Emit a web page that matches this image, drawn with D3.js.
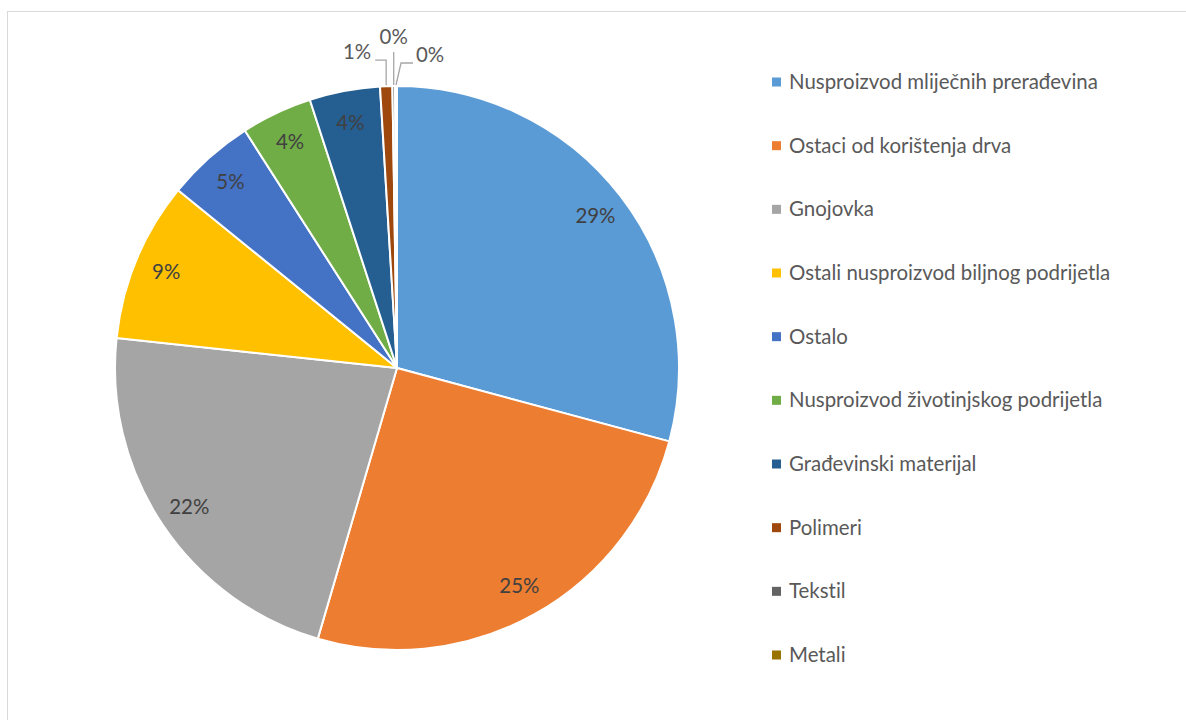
<!DOCTYPE html>
<html><head><meta charset="utf-8">
<script src="https://cdn.jsdelivr.net/npm/d3@7"></script>
<style>html,body{margin:0;padding:0;background:#fff;overflow:hidden} text{font-variant-ligatures:none;font-feature-settings:"liga" 0,"clig" 0}</style>
</head><body>
<svg id="c" width="1186" height="720"></svg>
<script>
const categories = ["Nusproizvod mliječnih prerađevina","Ostaci od korištenja drva","Gnojovka","Ostali nusproizvod biljnog podrijetla","Ostalo","Nusproizvod životinjskog podrijetla","Građevinski materijal","Polimeri","Tekstil","Metali"];
const values = [29.19, 25.34, 22.16, 9.17, 5.07, 4.07, 4.04, 0.70, 0.15, 0.11];
const colors = ["#5B9BD5","#ED7D31","#A5A5A5","#FFC000","#4472C4","#70AD47","#255E91","#9E480E","#636363","#997300"];

const svg = d3.select("#c");
const FONT = "Lato, 'Open Sans', sans-serif";
const TXT = "#595959";
// border
svg.append("rect").attr("x",7.5).attr("y",11.5).attr("width",1190).attr("height",720)
  .attr("fill","none").attr("stroke","#d9d9d9").attr("stroke-width",1);

const cx = 397, cy = 368, r = 282;
const total = d3.sum(values);
const pie = d3.pie().sort(null).value(d=>d)(values);
const arc = d3.arc().innerRadius(0).outerRadius(r);
const g = svg.append("g").attr("transform",`translate(${cx},${cy})`);
g.selectAll("path").data(pie).join("path")
  .attr("d",arc).attr("fill",(d,i)=>colors[i])
  .attr("stroke","#fff").attr("stroke-width",2).attr("stroke-linejoin","round");

// fit font size
const probe = svg.append("text").attr("font-family",FONT).attr("font-size",18).text(categories[0]);
const w18 = probe.node().getComputedTextLength();
probe.remove();
const fs = 18*309/w18;

const pct = v => Math.round(v/total*100) + "%";
const labelR = 250;
// inside labels
g.selectAll("text.in").data(pie.filter(d=>d.value/total>=0.02)).join("text")
  .attr("class","in")
  .attr("x",d=>labelR*Math.sin((d.startAngle+d.endAngle)/2))
  .attr("y",d=>-labelR*Math.cos((d.startAngle+d.endAngle)/2))
  .attr("dy","0.35em").attr("text-anchor","middle")
  .attr("font-family",FONT).attr("font-size",fs).attr("fill","#404040")
  .text(d=>pct(d.value));

// outside labels for tiny slices (layout: leader elbow offsets & text anchors)
const outLayout = [
  {elbow:[0,-25], end:[-11,0], anchor:"end", tx:-4, ty:-1},
  {elbow:[0,-33], end:[0,0], anchor:"middle", tx:0, ty:-8},
  {elbow:[5,-22], end:[12,0], anchor:"start", tx:3, ty:-1}
];
const small = pie.filter(d=>d.value/total<0.02);
small.forEach((d,k)=>{
  const L = outLayout[k];
  const a = (d.startAngle+d.endAngle)/2;
  const p0 = [ (r+1)*Math.sin(a), -(r+1)*Math.cos(a) ];
  const p1 = [p0[0]+L.elbow[0], p0[1]+L.elbow[1]];
  const p2 = [p1[0]+L.end[0], p1[1]+L.end[1]];
  g.append("polyline").attr("points",[p0,p1,p2].map(p=>p.join(",")).join(" "))
    .attr("fill","none").attr("stroke","#A6A6A6").attr("stroke-width",1.3);
  g.append("text").attr("x",p2[0]+L.tx).attr("y",p2[1]+L.ty)
    .attr("text-anchor",L.anchor).attr("font-family",FONT).attr("font-size",fs)
    .attr("fill",TXT).text(pct(d.value));
});

// legend
const lg = svg.append("g");
const legY = d3.scalePoint().domain(categories).range([82,655]);
categories.forEach((c,i)=>{
  const y = legY(c);
  lg.append("rect").attr("x",772).attr("y",y-4.5).attr("width",9).attr("height",9).attr("fill",colors[i]);
  lg.append("text").attr("x",789).attr("y",y).attr("dy","0.35em")
    .attr("font-family",FONT).attr("font-size",fs).attr("fill",TXT).text(c);
});
</script>
</body></html>
